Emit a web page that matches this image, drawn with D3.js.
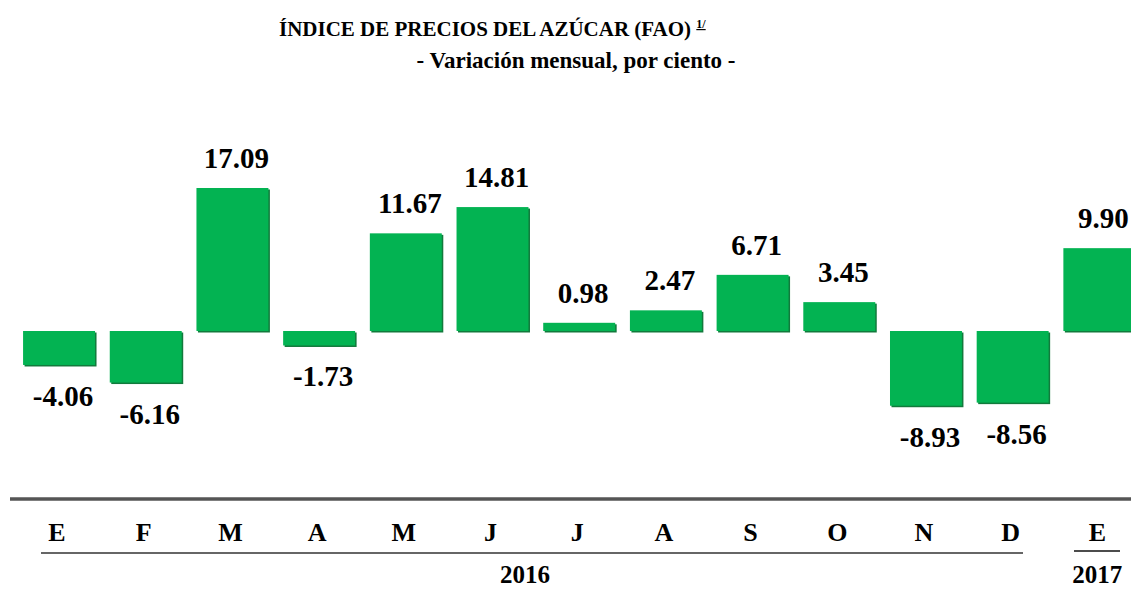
<!DOCTYPE html>
<html>
<head>
<meta charset="utf-8">
<script src="https://cdn.jsdelivr.net/npm/d3@7"></script>
<style>
  html, body { margin: 0; padding: 0; background: #fff; }
  svg { display: block; }
</style>
</head>
<body>
<svg id="chart" width="1131" height="590"></svg>
<script>
// Monthly change of the FAO sugar price index, Jan 2016 – Jan 2017 (%)
const months = ["E", "F", "M", "A", "M", "J", "J", "A", "S", "O", "N", "D", "E"];
const values = [-4.06, -6.16, 17.09, -1.73, 11.67, 14.81, 0.98, 2.47, 6.71, 3.45, -8.93, -8.56, 9.90];
const years = [
  { label: "2016", from: 0, to: 11 },
  { label: "2017", from: 12, to: 12 }
];

const SERIF = "'Liberation Serif', 'Times New Roman', 'DejaVu Serif', serif";

const svg = d3.select("#chart")
  .attr("font-family", SERIF)
  .attr("font-weight", "bold");
const idx = d3.range(months.length);

const x = d3.scaleBand().domain(idx).range([15.7, 1142.7]).paddingInner(0.17).paddingOuter(0.085);
const y = d3.scaleLinear().domain([-10, 18]).range([331 + 83.68, 331 - 150.62]);

function label(sel) {
  return sel.attr("font-family", SERIF).attr("font-weight", "bold").attr("fill", "#000");
}

// Title
const title = svg.append("text").call(label).attr("x", 279).attr("y", 36).attr("font-size", 21);
title.append("tspan").text("ÍNDICE DE PRECIOS DEL AZÚCAR (FAO) ");
title.append("tspan").attr("font-size", 12).attr("dy", -8).attr("text-decoration", "underline").text("1/");
svg.append("text").call(label).attr("x", 576).attr("y", 68).attr("text-anchor", "middle").attr("font-size", 23)
  .text("- Variación mensual, por ciento -");

// Bars with a thin dark edge on the right and bottom
const bars = svg.append("g");
bars.selectAll("rect.edge").data(idx).join("rect").attr("class", "edge")
  .attr("x", i => x(i) + 1.5)
  .attr("y", i => Math.min(y(0), y(values[i])) + 1.5)
  .attr("width", x.bandwidth())
  .attr("height", i => Math.abs(y(values[i]) - y(0)))
  .attr("fill", "#127a3c");
bars.selectAll("rect.bar").data(idx).join("rect").attr("class", "bar")
  .attr("x", i => x(i))
  .attr("y", i => Math.min(y(0), y(values[i])))
  .attr("width", x.bandwidth())
  .attr("height", i => Math.abs(y(values[i]) - y(0)))
  .attr("fill", "#03b352");

// Value labels
svg.append("g").selectAll("text").data(idx).join("text").call(label)
  .attr("x", i => x(i) + x.bandwidth() / 2 + 4)
  .attr("y", i => values[i] >= 0 ? y(values[i]) - 20 : y(values[i]) + 41)
  .attr("text-anchor", "middle")
  .attr("font-size", 29)
  .text(i => values[i].toFixed(2));

// Category axis
svg.append("line").attr("x1", 10).attr("x2", 1131).attr("y1", 499).attr("y2", 499)
  .attr("stroke", "#555").attr("stroke-width", 3.5);

svg.append("g").selectAll("text").data(idx).join("text").call(label)
  .attr("x", i => x(i) + x.bandwidth() / 2 - 2)
  .attr("y", 541)
  .attr("text-anchor", "middle")
  .attr("font-size", 26)
  .text(i => months[i]);

// Year brackets
svg.append("line").attr("x1", 41).attr("x2", 1023).attr("y1", 553).attr("y2", 553)
  .attr("stroke", "#333").attr("stroke-width", 1.5);
svg.append("line").attr("x1", 1074).attr("x2", 1120).attr("y1", 551).attr("y2", 551)
  .attr("stroke", "#111").attr("stroke-width", 1.5);

svg.append("g").selectAll("text").data(years).join("text").call(label)
  .attr("x", d => d.from === d.to ? x(d.from) + x.bandwidth() / 2 - 2 : 525)
  .attr("y", 583)
  .attr("text-anchor", "middle")
  .attr("font-size", 25)
  .text(d => d.label);
</script>
</body>
</html>
